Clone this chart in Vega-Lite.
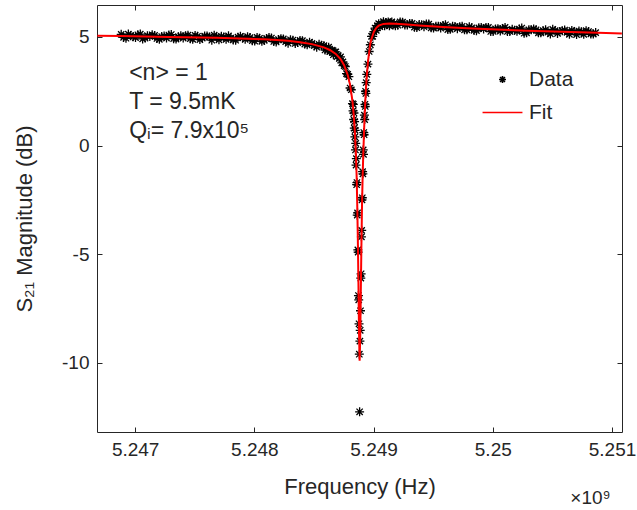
{
  "$schema": "https://vega.github.io/schema/vega-lite/v6.json",
  "width": 525,
  "height": 427,
  "autosize": "none",
  "padding": {"left": 97, "top": 5, "right": 15, "bottom": 78},
  "background": "white",
  "config": {
    "font": "Liberation Sans",
    "view": {"stroke": "#262626", "strokeWidth": 1},
    "axis": {"domain": false, "grid": false, "tickColor": "#262626", "tickSize": -5, "tickWidth": 1, "labelColor": "#262626", "titleColor": "#262626", "titleFontWeight": "normal", "labelFont": "Liberation Sans", "titleFont": "Liberation Sans"}
  },
  "datasets": {
    "measured": [
      {"f": 5.246883, "s": 5.12}, {"f": 5.246923, "s": 4.94}, {"f": 5.246963, "s": 5.06}, {"f": 5.247003, "s": 4.97},
      {"f": 5.247043, "s": 5.13}, {"f": 5.247083, "s": 4.95}, {"f": 5.247123, "s": 5.02}, {"f": 5.247163, "s": 5.07},
      {"f": 5.247203, "s": 4.89}, {"f": 5.247243, "s": 5.04}, {"f": 5.247283, "s": 5.09}, {"f": 5.247323, "s": 4.92},
      {"f": 5.247363, "s": 5.01}, {"f": 5.247403, "s": 4.95}, {"f": 5.247443, "s": 5.08}, {"f": 5.247483, "s": 4.89},
      {"f": 5.247523, "s": 5.03}, {"f": 5.247563, "s": 4.95}, {"f": 5.247603, "s": 5.04}, {"f": 5.247643, "s": 4.85},
      {"f": 5.247683, "s": 4.99}, {"f": 5.247723, "s": 5.03}, {"f": 5.247763, "s": 4.89}, {"f": 5.247803, "s": 4.95},
      {"f": 5.247843, "s": 4.85}, {"f": 5.247883, "s": 5.03}, {"f": 5.247923, "s": 4.89}, {"f": 5.247963, "s": 4.97},
      {"f": 5.248003, "s": 4.81}, {"f": 5.248043, "s": 4.94}, {"f": 5.248083, "s": 4.84}, {"f": 5.248123, "s": 4.97},
      {"f": 5.248163, "s": 4.79}, {"f": 5.248203, "s": 4.88}, {"f": 5.248243, "s": 4.91}, {"f": 5.248283, "s": 4.71},
      {"f": 5.248323, "s": 4.85}, {"f": 5.248363, "s": 4.74}, {"f": 5.248403, "s": 4.83}, {"f": 5.248443, "s": 4.64},
      {"f": 5.248483, "s": 4.70}, {"f": 5.248523, "s": 4.53}, {"f": 5.248563, "s": 4.62},
      {"f": 5.246903, "s": 4.98}, {"f": 5.246943, "s": 5.13}, {"f": 5.246983, "s": 5.01}, {"f": 5.247023, "s": 5.10},
      {"f": 5.247063, "s": 4.91}, {"f": 5.247103, "s": 5.06}, {"f": 5.247143, "s": 5.10}, {"f": 5.247183, "s": 4.93},
      {"f": 5.247223, "s": 5.02}, {"f": 5.247263, "s": 4.95}, {"f": 5.247303, "s": 5.11}, {"f": 5.247343, "s": 4.90},
      {"f": 5.247383, "s": 5.05}, {"f": 5.247423, "s": 5.06}, {"f": 5.247463, "s": 4.92}, {"f": 5.247503, "s": 5.07},
      {"f": 5.247543, "s": 4.88}, {"f": 5.247583, "s": 5.04}, {"f": 5.247623, "s": 5.00}, {"f": 5.247663, "s": 5.08},
      {"f": 5.247703, "s": 4.87}, {"f": 5.247743, "s": 5.00}, {"f": 5.247783, "s": 5.05}, {"f": 5.247823, "s": 4.86},
      {"f": 5.247863, "s": 4.99}, {"f": 5.247903, "s": 4.96}, {"f": 5.247943, "s": 5.01}, {"f": 5.247983, "s": 4.83},
      {"f": 5.248023, "s": 4.98}, {"f": 5.248063, "s": 4.80}, {"f": 5.248103, "s": 4.93}, {"f": 5.248143, "s": 4.95},
      {"f": 5.248183, "s": 4.77}, {"f": 5.248223, "s": 4.92}, {"f": 5.248263, "s": 4.78}, {"f": 5.248303, "s": 4.87},
      {"f": 5.248343, "s": 4.70}, {"f": 5.248383, "s": 4.84}, {"f": 5.248423, "s": 4.67}, {"f": 5.248463, "s": 4.76},
      {"f": 5.248503, "s": 4.60}, {"f": 5.248543, "s": 4.66},
      {"f": 5.248583, "s": 4.60}, {"f": 5.248593, "s": 4.40}, {"f": 5.248603, "s": 4.50}, {"f": 5.248613, "s": 4.39},
      {"f": 5.248623, "s": 4.53}, {"f": 5.248633, "s": 4.33}, {"f": 5.248643, "s": 4.37}, {"f": 5.248653, "s": 4.39},
      {"f": 5.248663, "s": 4.18}, {"f": 5.248673, "s": 4.30}, {"f": 5.248683, "s": 4.31}, {"f": 5.248693, "s": 4.09},
      {"f": 5.248703, "s": 4.14}, {"f": 5.248713, "s": 4.01}, {"f": 5.248723, "s": 4.08}, {"f": 5.248733, "s": 3.81},
      {"f": 5.248743, "s": 3.85}, {"f": 5.248753, "s": 3.68}, {"f": 5.248763, "s": 3.64}, {"f": 5.248773, "s": 3.31},
      {"f": 5.248783, "s": 3.28}, {"f": 5.248793, "s": 3.17}, {"f": 5.248803, "s": 2.65}, {"f": 5.248813, "s": 2.57},
      {"f": 5.248823, "s": 1.93},
      {"f": 5.248828, "s": 1.6}, {"f": 5.2488305, "s": 1.9}, {"f": 5.248833, "s": 1.2}, {"f": 5.2488355, "s": 1.5},
      {"f": 5.248838, "s": 0.8}, {"f": 5.2488405, "s": 1.1}, {"f": 5.248843, "s": 0.4}, {"f": 5.2488455, "s": 0.7},
      {"f": 5.248848, "s": -0.2}, {"f": 5.2488505, "s": 0.1}, {"f": 5.248853, "s": -0.9}, {"f": 5.2488555, "s": -0.6},
      {"f": 5.248858, "s": -1.8}, {"f": 5.2488605, "s": -1.7}, {"f": 5.248863, "s": -3.2}, {"f": 5.2488655, "s": -3.1},
      {"f": 5.248868, "s": -4.8}, {"f": 5.2488705, "s": -4.9}, {"f": 5.248873, "s": -6.9}, {"f": 5.2488755, "s": -7.1},
      {"f": 5.248878, "s": -8.2}, {"f": 5.2488805, "s": -9.6}, {"f": 5.248883, "s": -12.25}, {"f": 5.2488855, "s": -9.0},
      {"f": 5.248888, "s": -8.5}, {"f": 5.2488905, "s": -7.6}, {"f": 5.248893, "s": -6.1}, {"f": 5.2488955, "s": -5.9},
      {"f": 5.248898, "s": -4.2}, {"f": 5.2489005, "s": -3.9}, {"f": 5.248903, "s": -2.5}, {"f": 5.2489055, "s": -2.4},
      {"f": 5.248908, "s": -1.2}, {"f": 5.2489105, "s": -1.3}, {"f": 5.248913, "s": -0.2}, {"f": 5.2489155, "s": -0.4},
      {"f": 5.248918, "s": 0.6}, {"f": 5.2489205, "s": 0.5}, {"f": 5.248923, "s": 1.4}, {"f": 5.2489255, "s": 1.2},
      {"f": 5.248928, "s": 1.9}, {"f": 5.2489305, "s": 1.8}, {"f": 5.248933, "s": 2.5}, {"f": 5.2489355, "s": 2.4},
      {"f": 5.248938, "s": 2.9},
      {"f": 5.248943, "s": 3.28}, {"f": 5.248953, "s": 3.75}, {"f": 5.248963, "s": 4.33}, {"f": 5.248973, "s": 4.64},
      {"f": 5.248983, "s": 5.03}, {"f": 5.248993, "s": 5.03}, {"f": 5.249003, "s": 5.24}, {"f": 5.249013, "s": 5.41},
      {"f": 5.249023, "s": 5.30}, {"f": 5.249033, "s": 5.52}, {"f": 5.249043, "s": 5.61}, {"f": 5.249053, "s": 5.47},
      {"f": 5.249063, "s": 5.59}, {"f": 5.249073, "s": 5.55}, {"f": 5.249083, "s": 5.70}, {"f": 5.249093, "s": 5.52},
      {"f": 5.249103, "s": 5.67}, {"f": 5.249113, "s": 5.60}, {"f": 5.249123, "s": 5.69}, {"f": 5.249133, "s": 5.51},
      {"f": 5.249143, "s": 5.65}, {"f": 5.249153, "s": 5.69}, {"f": 5.249163, "s": 5.55}, {"f": 5.249173, "s": 5.62},
      {"f": 5.249183, "s": 5.52},
      {"f": 5.249223, "s": 5.69}, {"f": 5.249263, "s": 5.55}, {"f": 5.249303, "s": 5.62}, {"f": 5.249343, "s": 5.45},
      {"f": 5.249383, "s": 5.57}, {"f": 5.249423, "s": 5.47}, {"f": 5.249463, "s": 5.59}, {"f": 5.249503, "s": 5.41},
      {"f": 5.249543, "s": 5.49}, {"f": 5.249583, "s": 5.53}, {"f": 5.249623, "s": 5.34}, {"f": 5.249663, "s": 5.49},
      {"f": 5.249703, "s": 5.38}, {"f": 5.249743, "s": 5.49}, {"f": 5.249783, "s": 5.33}, {"f": 5.249823, "s": 5.42},
      {"f": 5.249863, "s": 5.29}, {"f": 5.249903, "s": 5.43}, {"f": 5.249943, "s": 5.44}, {"f": 5.249983, "s": 5.25},
      {"f": 5.250023, "s": 5.37}, {"f": 5.250063, "s": 5.27}, {"f": 5.250103, "s": 5.44}, {"f": 5.250143, "s": 5.25},
      {"f": 5.250183, "s": 5.31}, {"f": 5.250223, "s": 5.36}, {"f": 5.250263, "s": 5.17}, {"f": 5.250303, "s": 5.33},
      {"f": 5.250343, "s": 5.37}, {"f": 5.250383, "s": 5.19}, {"f": 5.250423, "s": 5.29}, {"f": 5.250463, "s": 5.22},
      {"f": 5.250503, "s": 5.35}, {"f": 5.250543, "s": 5.16}, {"f": 5.250583, "s": 5.29}, {"f": 5.250623, "s": 5.21},
      {"f": 5.250663, "s": 5.30}, {"f": 5.250703, "s": 5.11}, {"f": 5.250743, "s": 5.24}, {"f": 5.250783, "s": 5.29},
      {"f": 5.250823, "s": 5.14}, {"f": 5.250863, "s": 5.20},
      {"f": 5.249203, "s": 5.54}, {"f": 5.249243, "s": 5.68}, {"f": 5.249283, "s": 5.55}, {"f": 5.249323, "s": 5.62},
      {"f": 5.249363, "s": 5.43}, {"f": 5.249403, "s": 5.56}, {"f": 5.249443, "s": 5.60}, {"f": 5.249483, "s": 5.42},
      {"f": 5.249523, "s": 5.49}, {"f": 5.249563, "s": 5.41}, {"f": 5.249603, "s": 5.56}, {"f": 5.249643, "s": 5.35},
      {"f": 5.249683, "s": 5.48}, {"f": 5.249723, "s": 5.47}, {"f": 5.249763, "s": 5.33}, {"f": 5.249803, "s": 5.47},
      {"f": 5.249843, "s": 5.30}, {"f": 5.249883, "s": 5.42}, {"f": 5.249923, "s": 5.37}, {"f": 5.249963, "s": 5.44},
      {"f": 5.250003, "s": 5.25}, {"f": 5.250043, "s": 5.38}, {"f": 5.250083, "s": 5.39}, {"f": 5.250123, "s": 5.25},
      {"f": 5.250163, "s": 5.35}, {"f": 5.250203, "s": 5.26}, {"f": 5.250243, "s": 5.41}, {"f": 5.250283, "s": 5.19},
      {"f": 5.250323, "s": 5.33}, {"f": 5.250363, "s": 5.33}, {"f": 5.250403, "s": 5.19}, {"f": 5.250443, "s": 5.33},
      {"f": 5.250483, "s": 5.14}, {"f": 5.250523, "s": 5.29}, {"f": 5.250563, "s": 5.25}, {"f": 5.250603, "s": 5.32},
      {"f": 5.250643, "s": 5.12}, {"f": 5.250683, "s": 5.25}, {"f": 5.250723, "s": 5.27}, {"f": 5.250763, "s": 5.12},
      {"f": 5.250803, "s": 5.25}, {"f": 5.250843, "s": 5.13}
    ],
    "fit": [
      {"f": 5.246683, "s": 5.05}, {"f": 5.246883, "s": 5.04}, {"f": 5.247283, "s": 5.00}, {"f": 5.247683, "s": 4.96},
      {"f": 5.247883, "s": 4.93}, {"f": 5.248083, "s": 4.89}, {"f": 5.248283, "s": 4.82}, {"f": 5.248383, "s": 4.76},
      {"f": 5.248483, "s": 4.67}, {"f": 5.248583, "s": 4.52}, {"f": 5.248633, "s": 4.40}, {"f": 5.248683, "s": 4.22},
      {"f": 5.248723, "s": 3.98}, {"f": 5.248753, "s": 3.70}, {"f": 5.248783, "s": 3.25}, {"f": 5.248803, "s": 2.80},
      {"f": 5.248823, "s": 2.05}, {"f": 5.248833, "s": 1.45}, {"f": 5.248843, "s": 0.65}, {"f": 5.248853, "s": -0.55},
      {"f": 5.248858, "s": -1.4}, {"f": 5.248863, "s": -2.7}, {"f": 5.248868, "s": -4.3}, {"f": 5.248873, "s": -6.3},
      {"f": 5.248878, "s": -8.6}, {"f": 5.248883, "s": -9.9}, {"f": 5.248888, "s": -8.9}, {"f": 5.248893, "s": -6.7},
      {"f": 5.248898, "s": -4.6}, {"f": 5.248903, "s": -2.8}, {"f": 5.248908, "s": -1.5}, {"f": 5.248913, "s": -0.5},
      {"f": 5.248918, "s": 0.3}, {"f": 5.248923, "s": 1.1}, {"f": 5.248933, "s": 2.3}, {"f": 5.248943, "s": 3.2},
      {"f": 5.248953, "s": 3.85}, {"f": 5.248963, "s": 4.3}, {"f": 5.248973, "s": 4.7}, {"f": 5.248983, "s": 4.92},
      {"f": 5.249003, "s": 5.24}, {"f": 5.249023, "s": 5.42}, {"f": 5.249043, "s": 5.52}, {"f": 5.249083, "s": 5.60},
      {"f": 5.249133, "s": 5.62}, {"f": 5.249183, "s": 5.61}, {"f": 5.249283, "s": 5.57}, {"f": 5.249383, "s": 5.53},
      {"f": 5.249583, "s": 5.46}, {"f": 5.249783, "s": 5.40}, {"f": 5.249983, "s": 5.35}, {"f": 5.250283, "s": 5.29},
      {"f": 5.250583, "s": 5.24}, {"f": 5.250883, "s": 5.19}, {"f": 5.251083, "s": 5.16}
    ]
  },
  "resolve": {"axis": {"x": "independent", "y": "independent"}},
  "layer": [
    {
      "data": {"name": "measured"},
      "mark": {"type": "point", "size": 81, "filled": false, "strokeWidth": 1.3, "opacity": 1, "clip": true},
      "encoding": {
        "x": {"field": "f", "type": "quantitative",
              "scale": {"domain": [5.24668, 5.251084], "nice": false, "zero": false},
              "axis": {"orient": "bottom", "values": [5.247, 5.248, 5.249, 5.25, 5.251], "labelExpr": "'' + datum.value", "labelFontSize": 19, "labelPadding": 13, "title": "Frequency (Hz)", "titleFontSize": 22, "titlePadding": 17}},
        "y": {"field": "s", "type": "quantitative",
              "scale": {"domain": [-13.18, 6.47], "nice": false, "zero": false},
              "axis": {"orient": "left", "values": [-10, -5, 0, 5], "labelExpr": "'' + datum.value", "labelFontSize": 19, "labelPadding": 13, "title": "S₂₁ Magnitude (dB)", "titleFontSize": 22, "titlePadding": 25}},
        "color": {"datum": "Data", "type": "nominal",
                  "scale": {"domain": ["Data", "Fit"], "range": ["#000000", "#ff0000"]},
                  "legend": {"orient": "none", "legendX": 395, "legendY": 64, "title": null, "padding": 0,
                             "labelFontSize": 21, "labelColor": "#262626", "labelFont": "Liberation Sans", "labelOffset": 16,
                             "symbolSize": 49, "symbolStrokeWidth": 1.6, "rowPadding": 11}},
        "shape": {"datum": "Data", "type": "nominal",
                  "scale": {"domain": ["Data", "Fit"], "range": ["M-1,0L1,0M0,-1L0,1M-0.7,-0.7L0.7,0.7M-0.7,0.7L0.7,-0.7", "M-5.7,0L5.7,0"]},
                  "legend": {"orient": "none", "legendX": 395, "legendY": 64, "title": null, "padding": 0,
                             "labelFontSize": 21, "labelColor": "#262626", "labelFont": "Liberation Sans", "labelOffset": 16,
                             "symbolSize": 49, "symbolStrokeWidth": 1.6, "rowPadding": 11}}
      }
    },
    {
      "data": {"name": "fit"},
      "mark": {"type": "line", "strokeWidth": 2, "clip": true},
      "encoding": {
        "x": {"field": "f", "type": "quantitative",
              "axis": {"orient": "top", "values": [5.247, 5.248, 5.249, 5.25, 5.251], "labels": false, "title": null}},
        "y": {"field": "s", "type": "quantitative",
              "axis": {"orient": "right", "values": [-10, -5, 0, 5], "labels": false, "title": null}},
        "color": {"datum": "Fit", "type": "nominal"}
      }
    },
    {
      "data": {"values": [{}]},
      "mark": {"type": "text", "align": "left", "baseline": "middle", "fontSize": 23, "lineHeight": 29, "color": "#262626", "font": "Liberation Sans"},
      "encoding": {
        "x": {"datum": 5.24695, "type": "quantitative", "axis": null},
        "y": {"datum": 3.36, "type": "quantitative", "axis": null},
        "text": {"value": ["<n> = 1", "T = 9.5mK", "Qᵢ= 7.9x10⁵"]}
      }
    },
    {
      "data": {"values": [{}]},
      "mark": {"type": "text", "align": "center", "baseline": "middle", "fontSize": 19, "color": "#262626", "font": "Liberation Sans"},
      "encoding": {
        "x": {"datum": 5.25082, "type": "quantitative", "axis": null},
        "y": {"datum": -16.2, "type": "quantitative", "axis": null},
        "text": {"value": "×10⁹"}
      }
    }
  ]
}
